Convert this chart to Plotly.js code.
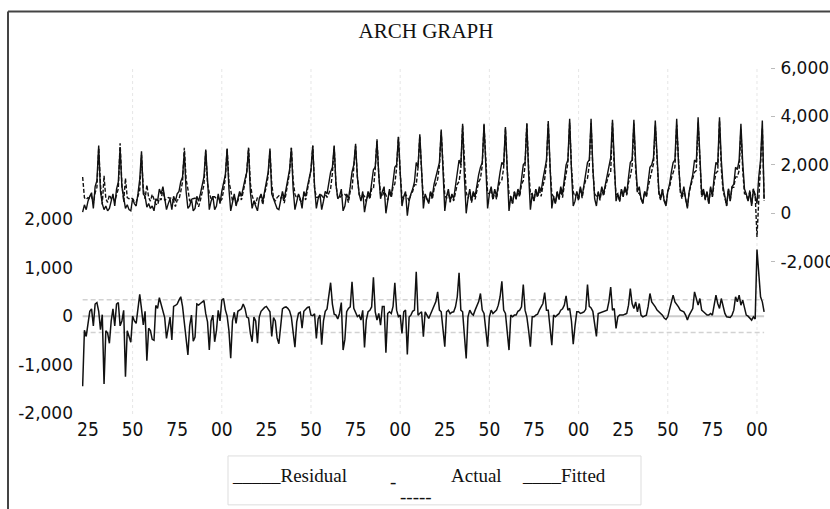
<!DOCTYPE html>
<html><head><meta charset="utf-8">
<script src="https://cdn.plot.ly/plotly-3.0.1.min.js"></script>
<style>html,body{margin:0;padding:0;background:#fff;}#chart{width:830px;height:509px;}</style>
</head><body><div id="chart"></div>
<script>
// observation index of the first value
const firstObs = 22;

const residual = [
-1450,-290,-420,-150,100,150,-200,250,280,100,-280,30,
-1400,-300,-350,-560,-100,150,-200,250,280,-200,-100,120,
-1250,-300,-450,-540,0,-100,-150,100,450,150,-180,100,
-920,-250,-300,-480,-500,220,160,380,250,70,-30,-460,
-250,-20,-490,200,220,250,330,400,200,-180,-500,-800,
-200,20,-520,-430,250,230,260,300,320,50,-120,-700,
-100,20,-530,-300,120,-100,330,360,130,0,-300,-870,
-100,80,-150,100,124,150,250,160,-20,-40,-350,-530,
-20,-100,-560,-20,100,150,180,200,150,90,-420,-30,
-100,-450,-570,-120,150,180,190,160,110,-20,-350,-640,
-120,60,80,-250,100,150,180,190,20,10,50,-460,
-60,20,-590,-100,100,150,430,690,250,40,20,-60,
60,280,-700,-480,90,160,190,710,160,90,-10,20,
-80,120,-645,-80,90,120,190,800,90,-80,55,-185,
200,200,-755,55,90,55,200,690,124,-10,20,-357,
89,124,-790,-20,20,100,124,914,20,60,89,-426,
89,21,-48,40,124,192,300,500,124,89,-300,-632,
89,124,50,80,89,192,400,893,124,89,-400,-872,
-14,124,55,21,124,200,300,467,124,55,-300,-632,
-14,124,55,89,124,227,400,721,124,55,-300,-701,
21,-14,21,21,100,124,192,653,124,-14,-300,-632,
-14,-14,21,40,124,200,261,488,124,124,-200,-598,
21,-14,21,50,124,150,227,419,124,160,-100,-577,
-200,89,89,55,70,89,140,650,200,170,100,-200,
-420,55,69,80,89,110,124,300,600,124,158,-254,
-14,21,21,21,40,55,227,570,261,158,295,89,
261,21,-14,0,21,200,467,295,250,192,124,89,
50,21,-40,-69,-14,124,250,433,295,250,192,124,
100,89,21,-82,21,100,158,501,330,227,364,124,
89,55,21,21,55,21,250,433,261,158,364,192,
55,-14,-20,-27,21,124,398,295,433,227,330,192,
21,0,-48,-82,-14,-60,1374,810,398,295,89
];

const actual = [
50,350,150,500,700,850,200,1100,1350,2800,900,400,
150,300,100,200,500,800,300,1000,1300,2690,1100,600,
200,350,150,100,600,400,300,800,1400,2560,800,700,
250,400,200,300,100,600,500,1000,800,1100,500,150,
400,600,150,700,500,800,900,1300,1500,2530,900,200,
300,600,100,200,700,500,800,1200,1500,2630,1100,150,
500,700,150,300,800,400,900,1300,1600,2670,1000,100,
400,800,300,600,900,700,1100,1400,1700,2670,900,200,
500,300,100,600,800,500,1000,1300,1700,2670,800,600,
400,200,150,500,900,600,1000,1400,1800,2690,1000,150,
500,800,600,200,900,700,1100,1500,1800,2800,1100,200,
600,800,150,500,900,800,1300,1700,1900,2800,1200,600,
700,1000,100,300,800,600,1100,1700,2000,2870,1500,800,
500,900,50,400,900,700,1200,1800,1900,2980,1600,600,
900,1100,0,600,1000,700,1300,1900,2000,3150,1700,300,
700,900,-100,500,800,1000,1300,2100,1900,3260,1800,200,
800,600,400,900,700,1200,1500,1900,2100,3460,1700,100,
700,1000,500,800,600,1100,1600,2200,2000,3700,1500,0,
600,1000,500,900,700,1200,1600,1900,2100,3700,1600,200,
800,1100,600,1000,700,1300,1700,2100,2000,3560,1500,100,
700,400,900,600,1000,800,1400,2000,2100,3700,1600,150,
800,500,1000,700,1100,900,1400,1900,2200,3810,1700,200,
700,400,900,600,1100,800,1400,2000,2200,3900,1800,300,
500,900,600,1100,700,1200,1500,2100,2200,3900,1900,600,
300,900,600,1100,800,1200,1500,1900,2300,3860,2000,500,
800,500,1000,700,1100,800,1500,2100,2200,3860,2100,900,
1100,600,400,900,700,1300,1900,2000,2300,3830,2000,900,
600,1000,500,300,900,1200,1700,2100,2200,3900,2100,1000,
700,1100,600,200,900,1300,1600,2200,2100,3970,2200,800,
1000,600,900,400,1100,700,1500,2100,2000,3970,2200,1100,
700,300,1000,500,1100,1200,1900,1800,2200,3700,2100,1000,
800,500,900,300,1000,700,400,1500,2200,3830,600
];

const fitted = [
1500,640,570,650,600,700,400,850,1070,2700,1180,370,
1550,600,450,760,600,650,500,750,1020,2890,1200,480,
1450,650,600,640,600,500,450,700,950,2410,980,600,
1170,650,500,780,600,380,340,620,550,1030,530,610,
650,620,640,500,280,550,570,900,1300,2710,1400,1000,
500,580,620,630,450,270,540,900,1180,2580,1220,850,
600,680,680,600,680,500,570,940,1470,2670,1300,970,
500,720,450,500,776,550,850,1240,1720,2710,1250,730,
520,400,660,620,700,350,820,1100,1550,2580,1220,630,
500,650,720,620,750,420,810,1240,1690,2710,1350,790,
620,740,520,450,800,550,920,1310,1780,2790,1050,660,
660,780,740,600,800,650,870,1010,1650,2760,1180,660,
640,720,800,780,710,440,910,990,1840,2780,1510,780,
580,780,695,480,810,580,1010,1000,1810,3060,1545,785,
700,900,755,545,910,645,1100,1210,1876,3160,1680,657,
611,776,690,520,780,900,1176,1186,1880,3200,1711,626,
711,579,448,860,576,1008,1200,1400,1976,3371,2000,732,
611,876,450,720,511,908,1200,1307,1876,3611,1900,872,
614,876,445,879,576,1000,1300,1433,1976,3645,1900,832,
814,976,545,911,576,1073,1300,1379,1876,3505,1800,801,
679,414,879,579,900,676,1208,1347,1976,3714,1900,782,
814,514,979,660,976,700,1139,1412,2076,3686,1900,798,
679,414,879,550,976,650,1173,1581,2076,3740,1900,877,
700,811,511,1045,630,1111,1360,1450,2000,3730,1800,800,
720,845,531,1020,711,1090,1376,1600,1700,3736,1842,754,
814,479,979,679,1060,745,1273,1530,1939,3702,1805,811,
839,579,414,900,679,1100,1433,1705,2050,3638,1876,811,
550,979,540,369,914,1076,1450,1667,1905,3650,1908,876,
600,1011,579,282,879,1200,1442,1699,1770,3743,1836,676,
911,545,879,379,1045,679,1250,1667,1739,3812,1836,908,
645,314,1020,527,1079,1076,1502,1505,1767,3473,1770,808,
779,500,948,382,1014,760,-974,690,1802,3535,511
];

const seBand = 340;
const xTickVals = [25,50,75,100,125,150,175,200,225,250,275,300,325,350,375,400];
const xTickText = ["25","50","75","00","25","50","75","00","25","50","75","00","25","50","75","00"];
const gridObs = [50,100,150,200,250,300,350,400];
const leftTickVals = [-2000,-1000,0,1000,2000];
const leftTickText = ["-2,000","-1,000","0","1,000","2,000"];
const rightTickVals = [-2000,0,2000,4000,6000];
const rightTickText = ["-2,000","0","2,000","4,000","6,000"];

const obs = residual.map((_, i) => firstObs + i);
const lastObs = obs[obs.length - 1];

const L = 82, R = 770, T = 67.5, B = 414;
const pw = R - L, ph = B - T;
const px = v => (v - L) / pw;
const py = v => (B - v) / ph;

const traces = [
  {x: obs, y: residual, type: 'scatter', mode: 'lines', name: 'Residual', yaxis: 'y',
   line: {color: '#111', width: 1.5}},
  {x: obs, y: fitted, type: 'scatter', mode: 'lines', name: 'Fitted', yaxis: 'y2',
   line: {color: '#111', width: 1.4, dash: '4px,2px'}},
  {x: obs, y: actual, type: 'scatter', mode: 'lines', name: 'Actual', yaxis: 'y2',
   line: {color: '#111', width: 1.4}}
];

const shapes = [];
gridObs.forEach(g => shapes.push({type: 'line', xref: 'x', yref: 'paper', x0: g, x1: g, y0: 0, y1: 1,
  line: {color: '#e6e6e6', width: 1, dash: 'dot'}, layer: 'below'}));
shapes.push({type: 'line', xref: 'x', yref: 'y', x0: firstObs, x1: lastObs, y0: 0, y1: 0,
  line: {color: '#cccccc', width: 2}, layer: 'below'});
[seBand, -seBand].forEach(v => shapes.push({type: 'line', xref: 'x', yref: 'y', x0: firstObs, x1: lastObs, y0: v, y1: v,
  line: {color: '#d2d2d2', width: 1.5, dash: '5px,3px'}, layer: 'below'}));
// outer frame
shapes.push({type: 'line', xref: 'paper', yref: 'paper', x0: px(8), x1: px(8), y0: py(11), y1: py(520),
  line: {color: '#444', width: 2}});
shapes.push({type: 'line', xref: 'paper', yref: 'paper', x0: px(8), x1: px(840), y0: py(11), y1: py(11),
  line: {color: '#444', width: 2}});
// legend box
shapes.push({type: 'rect', xref: 'paper', yref: 'paper', x0: px(228), x1: px(641), y0: py(456), y1: py(505),
  line: {color: '#dddddd', width: 1}, fillcolor: 'rgba(0,0,0,0)'});

const legFont = {family: 'Liberation Serif, Times New Roman, serif', size: 19, color: '#111'};
const annotations = [
  {xref: 'paper', yref: 'paper', x: px(230), y: py(476), xanchor: 'left', yanchor: 'middle', showarrow: false, text: '_____Residual', font: legFont},
  {xref: 'paper', yref: 'paper', x: px(388), y: py(482), xanchor: 'left', yanchor: 'middle', showarrow: false, text: '-', font: legFont},
  {xref: 'paper', yref: 'paper', x: px(449), y: py(476), xanchor: 'left', yanchor: 'middle', showarrow: false, text: 'Actual', font: legFont},
  {xref: 'paper', yref: 'paper', x: px(520), y: py(476), xanchor: 'left', yanchor: 'middle', showarrow: false, text: '____Fitted', font: legFont},
  {xref: 'paper', yref: 'paper', x: px(398), y: py(497), xanchor: 'left', yanchor: 'middle', showarrow: false, text: '-----', font: legFont}
];

const tickFont = {family: 'DejaVu Sans, sans-serif', size: 17, color: '#111'};
const layout = {
  width: 830, height: 509,
  margin: {l: L, r: 830 - R, t: T, b: 509 - B, pad: 0},
  paper_bgcolor: '#fff', plot_bgcolor: '#fff',
  showlegend: false,
  title: {text: 'ARCH GRAPH', font: {family: 'Liberation Serif, Times New Roman, serif', size: 21, color: '#111'},
          xref: 'paper', x: 0.5, xanchor: 'center', yref: 'container', y: 1 - 31/509, yanchor: 'middle'},
  xaxis: {range: [21.64, 407.3], tickvals: xTickVals, ticktext: xTickText, showgrid: false, zeroline: false,
          showline: false, ticks: '', ticklabelstandoff: 2,
          tickfont: {family: 'Liberation Sans Narrow, Arial Narrow, DejaVu Sans Condensed, sans-serif', size: 19, color: '#111'}},
  yaxis: {range: [-2021, 5124], tickvals: leftTickVals, ticktext: leftTickText, showgrid: false, zeroline: false,
          showline: false, ticks: '', ticklabelstandoff: 8, tickfont: tickFont},
  yaxis2: {range: [-8289, 6000], overlaying: 'y', side: 'right', tickvals: rightTickVals, ticktext: rightTickText,
           showgrid: false, zeroline: false, showline: false, ticks: 'outside', ticklen: 4, tickcolor: '#bbbbbb',
           ticklabelstandoff: 2, tickfont: tickFont},
  shapes: shapes,
  annotations: annotations
};

Plotly.newPlot('chart', traces, layout, {displayModeBar: false, staticPlot: true});
</script>
</body></html>
